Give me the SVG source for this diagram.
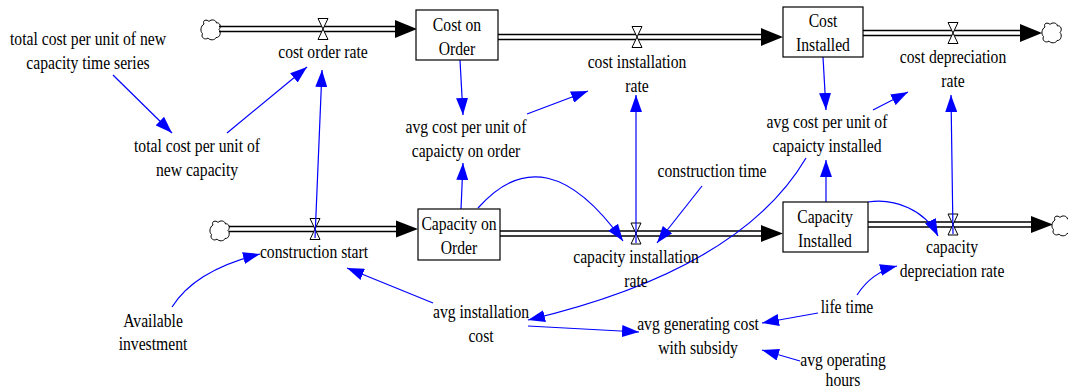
<svg xmlns="http://www.w3.org/2000/svg" width="1068" height="391" viewBox="0 0 1068 391">
  <style>
    text { font-family: 'Liberation Serif', 'Times New Roman', 'DejaVu Serif', serif; font-size: 18px; fill: #000; text-anchor: middle; }
    .box { fill: #fff; stroke: #000; stroke-width: 1.2; }
    .pipe { stroke: #000; stroke-width: 1.3; fill: none; }
    .head { fill: #000; stroke: none; }
    .link { stroke: #0000ff; stroke-width: 1.2; fill: none; marker-end: url(#arrow); }
  </style>
  <defs>
    <marker id="arrow" markerUnits="userSpaceOnUse" markerWidth="17" markerHeight="12" viewBox="0 0 17 12" refX="17" refY="6" orient="auto">
      <path d="M0,0 L17,6 L0,12 Z" fill="#0000ff"/>
    </marker>
    <path id="valve" d="M-5,-10.5 H5 L-5,10.5 H5 Z" fill="#fff" stroke="#000" stroke-width="1"/>
    <path id="cloud" d="M-7,-6 C-9,-10 -4,-11 -2,-8.5 C0,-11 5,-10.5 5.5,-7 C9,-8 10.5,-3 8,-0.5 C10.5,2 9,8 5,7.5 C4,10.5 -1.5,10.5 -3,8 C-6,10.5 -10.5,7.5 -8.5,3.5 C-11,1.5 -10.5,-4 -7,-6 Z" fill="#fff" stroke="#000" stroke-width="1"/>
  </defs>

  <!-- material flows: pipes, heads, valves, sources and sinks -->
  <g id="flows">
    <g id="flow-cost-order">
      <use href="#cloud" x="211" y="30"/>
      <path class="pipe" d="M219,26.5 H396 M219,31.5 H396"/>
      <polygon class="head" points="395,20 417,29 395,38"/>
      <use href="#valve" x="323" y="29"/>
    </g>
    <g id="flow-cost-installation">
      <path class="pipe" d="M498,34.5 H762 M498,39.5 H762"/>
      <polygon class="head" points="761,28 783,37 761,46"/>
      <use href="#valve" x="637" y="37"/>
    </g>
    <g id="flow-cost-depreciation">
      <path class="pipe" d="M863,30.5 H1021 M863,35.5 H1021"/>
      <polygon class="head" points="1020,24 1042,33 1020,42"/>
      <use href="#valve" x="953" y="33"/>
      <use href="#cloud" x="1052" y="33"/>
    </g>
    <g id="flow-construction-start">
      <use href="#cloud" x="220" y="231"/>
      <path class="pipe" d="M229,226.5 H397 M229,231.5 H397"/>
      <polygon class="head" points="396,220.5 418,229 396,237.5"/>
      <use href="#valve" x="315" y="229"/>
    </g>
    <g id="flow-capacity-installation">
      <path class="pipe" d="M500,231 H762 M500,236 H762"/>
      <polygon class="head" points="761,225 783,233.5 761,242"/>
      <use href="#valve" x="636" y="233.5"/>
    </g>
    <g id="flow-capacity-depreciation">
      <path class="pipe" d="M868,222 H1032 M868,227 H1032"/>
      <polygon class="head" points="1031,216 1053,224.5 1031,233"/>
      <use href="#valve" x="953" y="224.5"/>
      <use href="#cloud" x="1062" y="226"/>
    </g>
  </g>

  <!-- information links -->
  <g id="connectors">
    <path class="link" d="M113,75 L172,133"/>
    <path class="link" d="M227,133 L307,67"/>
    <path class="link" d="M315,238 L322,70"/>
    <path class="link" d="M460,60 L463,115"/>
    <path class="link" d="M527,114 L588,91"/>
    <path class="link" d="M636,243 L636,95"/>
    <path class="link" d="M461,209 L463,163"/>
    <path class="link" d="M478,208 Q545,132 623,241"/>
    <path class="link" d="M702,186 L657,243"/>
    <path class="link" d="M826,202 L826,160"/>
    <path class="link" d="M823,57 L826,110"/>
    <path class="link" d="M873,110 L908,92"/>
    <path class="link" d="M953,234 L951,95"/>
    <path class="link" d="M868,202 C895,198 925,210 938,236"/>
    <path class="link" d="M806,158 Q740,270 528,320"/>
    <path class="link" d="M433,303 L347,268"/>
    <path class="link" d="M172,307 Q195,270 260,254"/>
    <path class="link" d="M528,326 L639,332"/>
    <path class="link" d="M818,313 L762,323"/>
    <path class="link" d="M800,361 L762,350"/>
    <path class="link" d="M857,295 Q872,272 897,266"/>
  </g>

  <!-- labels are set in a serif face, slightly condensed -->
  <g font-family="Liberation Serif, Times New Roman, DejaVu Serif, serif" font-size="18">
  <!-- stocks -->
  <g id="cost-on-order">
    <rect class="box" x="416" y="10" width="82" height="50"/>
    <text transform="translate(457,31) scale(0.87,1)"><tspan x="0" y="0">Cost on</tspan><tspan x="0" y="24">Order</tspan></text>
  </g>
  <g id="cost-installed">
    <rect class="box" x="783" y="7" width="80" height="50"/>
    <text transform="translate(823,27) scale(0.87,1)"><tspan x="0" y="0">Cost</tspan><tspan x="0" y="24">Installed</tspan></text>
  </g>
  <g id="capacity-on-order">
    <rect class="box" x="418" y="209" width="82" height="51"/>
    <text transform="translate(459,230) scale(0.87,1)"><tspan x="0" y="0">Capacity on</tspan><tspan x="0" y="24">Order</tspan></text>
  </g>
  <g id="capacity-installed">
    <rect class="box" x="783" y="202" width="85" height="50"/>
    <text transform="translate(825,223) scale(0.87,1)"><tspan x="0" y="0">Capacity</tspan><tspan x="0" y="24">Installed</tspan></text>
  </g>

  <!-- rates -->
  <g id="cost-order-rate">
    <text transform="translate(323,58) scale(0.87,1)">cost order rate</text>
  </g>
  <g id="cost-installation-rate">
    <text transform="translate(637,68) scale(0.87,1)"><tspan x="0" y="0">cost installation</tspan><tspan x="0" y="24">rate</tspan></text>
  </g>
  <g id="cost-depreciation-rate">
    <text transform="translate(953,63) scale(0.87,1)"><tspan x="0" y="0">cost depreciation</tspan><tspan x="0" y="24">rate</tspan></text>
  </g>
  <g id="construction-start">
    <text transform="translate(314,258) scale(0.87,1)">construction start</text>
  </g>
  <g id="capacity-installation-rate">
    <text transform="translate(636,263) scale(0.87,1)"><tspan x="0" y="0">capacity installation</tspan><tspan x="0" y="24">rate</tspan></text>
  </g>
  <g id="capacity-depreciation-rate">
    <text transform="translate(952,253) scale(0.87,1)"><tspan x="0" y="0">capacity</tspan><tspan x="0" y="24">depreciation rate</tspan></text>
  </g>

  <!-- auxiliaries -->
  <g id="total-cost-time-series">
    <text transform="translate(88,45) scale(0.87,1)"><tspan x="0" y="0">total cost per unit of new</tspan><tspan x="0" y="24">capacity time series</tspan></text>
  </g>
  <g id="total-cost-per-unit">
    <text transform="translate(197,152) scale(0.87,1)"><tspan x="0" y="0">total cost per unit of</tspan><tspan x="0" y="24">new capacity</tspan></text>
  </g>
  <g id="avg-cost-on-order">
    <text transform="translate(466,133) scale(0.87,1)"><tspan x="0" y="0">avg cost per unit of</tspan><tspan x="0" y="24">capaicty on order</tspan></text>
  </g>
  <g id="avg-cost-installed">
    <text transform="translate(827,128) scale(0.87,1)"><tspan x="0" y="0">avg cost per unit of</tspan><tspan x="0" y="24">capaicty installed</tspan></text>
  </g>
  <g id="construction-time">
    <text transform="translate(712,177) scale(0.87,1)">construction time</text>
  </g>
  <g id="available-investment">
    <text transform="translate(153,327) scale(0.87,1)"><tspan x="0" y="0">Available</tspan><tspan x="0" y="23">investment</tspan></text>
  </g>
  <g id="avg-installation-cost">
    <text transform="translate(481,318) scale(0.87,1)"><tspan x="0" y="0">avg installation</tspan><tspan x="0" y="24">cost</tspan></text>
  </g>
  <g id="avg-generating-cost">
    <text transform="translate(698,330) scale(0.87,1)"><tspan x="0" y="0">avg generating cost</tspan><tspan x="0" y="24">with subsidy</tspan></text>
  </g>
  <g id="life-time">
    <text transform="translate(847,313) scale(0.87,1)">life time</text>
  </g>
  <g id="avg-operating-hours">
    <text transform="translate(843,366) scale(0.87,1)"><tspan x="0" y="0">avg operating</tspan><tspan x="0" y="20">hours</tspan></text>
  </g>
  </g>
</svg>
